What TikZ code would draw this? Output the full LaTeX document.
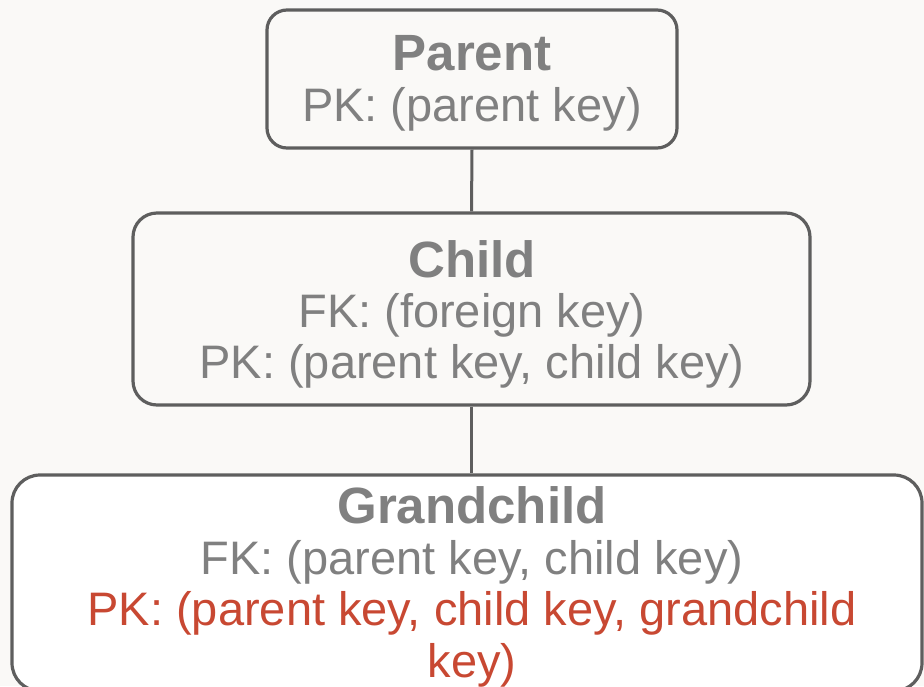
\documentclass[tikz,border=0pt]{standalone}
\usepackage{fontspec}
\setmainfont{Liberation Sans}
\definecolor{paper}{HTML}{FAF9F7}
\definecolor{edge}{HTML}{5E5E5E}
\definecolor{txtgray}{HTML}{808080}
\definecolor{keyred}{RGB}{200,72,50}
\begin{document}
\begin{tikzpicture}[x=1pt,y=-1pt,
  tbox/.style={draw=edge, line width=3.2pt, fill=paper, inner sep=0pt},
  title/.style={anchor=base, inner sep=0pt, text=txtgray,
    font=\fontsize{51}{51}\selectfont\bfseries},
  field/.style={anchor=base, inner sep=0pt, text=txtgray,
    font=\fontsize{47}{47}\selectfont},
  link/.style={draw=edge, line width=3pt}]
  % page
  \fill[paper] (0,0) rectangle (924,686);
  \useasboundingbox (0,0) rectangle (924,686);

  % entity boxes
  \node[tbox, rounded corners=20pt, minimum width=410pt, minimum height=138pt]
    (parent) at (472,79) {};
  \node[tbox, rounded corners=24pt, minimum width=677pt, minimum height=192pt]
    (child) at (471.5,309) {};
  \node[tbox, fill=white, rounded corners=28pt, minimum width=910pt, minimum height=216pt]
    (grand) at (467,583) {};

  % relationships
  \draw[link] (parent.south) -- (child.north);
  \draw[link] (child.south) -- (child.south |- grand.north);

  % parent text
  \node[title] (ptitle) at (472,70) {Parent};
  \node[field] (ppk) at (472,121.7) {PK: (parent key)};

  % child text
  \node[title] (ctitle) at (472,277) {Child};
  \node[field] (cfk) at (472,327.7) {FK: (foreign key)};
  \node[field] (cpk) at (472,378) {PK: (parent key, child key)};

  % grandchild text
  \node[title] (gtitle) at (472,523) {Grandchild};
  \node[field] (gfk) at (472,574) {FK: (parent key, child key)};
  \node[field, text=keyred] (gpk) at (472,625.7) {PK: (parent key, child key, grandchild};
  \node[field, text=keyred] (gpk2) at (472,677) {key)};
\end{tikzpicture}
\end{document}
